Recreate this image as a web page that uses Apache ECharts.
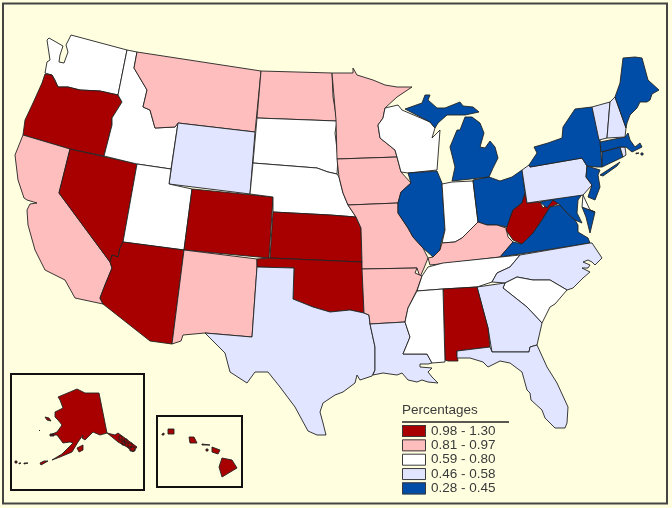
<!DOCTYPE html>
<html><head><meta charset="utf-8">
<style>html,body{margin:0;padding:0;background:#FFFFE0}#c{width:672px;height:508px}</style>
<script src="https://cdn.jsdelivr.net/npm/echarts@6/dist/echarts.min.js"></script>
</head><body><div id="c"></div>
<script>
// Data
var legendTitle = 'Percentages';
var binLabels = ['0.98 - 1.30','0.81 - 0.97','0.59 - 0.80','0.46 - 0.58','0.28 - 0.45'];
var binMin = [0.98,0.81,0.59,0.46,0.28];
var binMax = [1.30,0.97,0.80,0.58,0.45];
var binColors = ['#A80000','#FFBEBE','#FFFFFF','#E1E5FF','#004DA8'];
var stateNames = ['OR','NV','AZ','CO','KS','OK','AL','WV','AK','HI',
                  'CA','MT','ND','MN','IA','MO','AR','NM','KY',
                  'WA','ID','UT','SD','NE','WI','IN','TN','MS','SC','DE',
                  'WY','TX','LA','GA','FL','NC','PA','VT','NH','RI',
                  'MI','IL','OH','NY','VA','MD','NJ','CT','MA','ME'];
var stateValues = [1.05,1.12,1.02,1.00,1.08,1.04,1.10,1.30,1.15,0.99,
                   0.85,0.90,0.88,0.83,0.86,0.92,0.95,0.89,0.97,
                   0.70,0.75,0.62,0.66,0.72,0.68,0.78,0.80,0.74,0.64,0.60,
                   0.50,0.52,0.55,0.48,0.54,0.57,0.49,0.46,0.47,0.58,
                   0.40,0.42,0.44,0.36,0.38,0.33,0.35,0.30,0.28,0.41];

// Map outlines, in picture space (x, y)
var outlines = {
 WA:[[71,35,127,50,118,95,100,91,80,90,68,87,58,87,55,80,52,75,45,73,47,62,50,60,47,40,49,38,63,46,60,55,59,62,64,63,68,52,66,45]],
 OR:[[45,74,52,75,58,87,68,87,80,90,100,91,118,95,122,102,112,118,112,125,104,156,70,149,23,135,25,120,33,103,42,83]],
 CA:[[23,135,70,149,59,193,110,262,112,268,105,285,100,298,103,304,75,298,65,280,45,270,35,250,28,225,27,210,30,204,37,203,27,200,24,198,18,180,15,155]],
 NV:[[70,149,137,164,123,242,120,248,118,257,112,255,110,262,59,193]],
 ID:[[127,50,137,52,134,68,147,90,143,107,150,110,155,128,175,127,178,123,171,169,137,164,104,156,112,125,112,118,122,102,118,95]],
 MT:[[137,52,261,71,255,132,178,123,175,127,155,128,150,110,143,107,147,90,134,68]],
 WY:[[178,123,255,132,250,194,169,184]],
 UT:[[137,164,171,169,169,184,192,189,184,250,123,242]],
 AZ:[[123,242,184,250,172,344,150,341,103,304,100,298,105,285,112,268,110,262,112,255,118,257,120,248]],
 CO:[[192,189,273,197,269,258,184,250]],
 NM:[[184,250,257,259,257,267,252,337,205,333,183,335,181,341,172,344]],
 ND:[[261,71,332,73,333,97,337,121,257,118]],
 SD:[[257,118,337,121,335,133,338,158,337,174,328,172,317,168,253,163]],
 NE:[[253,163,317,168,328,172,337,174,339,177,343,193,348,205,356,217,330,215,273,212,273,197,250,194]],
 KS:[[273,212,330,215,356,217,361,228,362,262,270,258]],
 OK:[[269,258,362,262,364,313,350,310,330,312,313,307,293,299,294,268,257,267,257,259]],
 TX:[[257,267,294,268,293,299,313,307,330,312,350,310,364,313,369,315,370,324,375,347,375,370,372,376,360,380,357,375,355,383,343,392,335,395,323,403,320,412,323,423,326,435,317,435,308,431,295,407,280,387,268,372,255,372,247,383,230,372,225,353,205,333,252,337]],
 MN:[[332,73,353,73,353,68,357,75,373,80,385,85,397,87,412,87,397,97,385,108,383,118,378,125,380,138,395,150,397,157,337,159,336,120]],
 IA:[[337,159,397,157,401,172,411,183,401,192,398,203,348,205,343,193,339,177]],
 MO:[[348,205,398,203,398,213,408,228,413,237,423,248,428,258,424,268,420,277,417,268,362,269,362,262,361,228,356,217]],
 AR:[[362,269,417,268,415,273,422,276,417,290,408,308,405,322,370,324,369,315,364,313]],
 LA:[[370,324,405,322,410,337,403,354,427,354,432,363,428,364,420,364,420,367,432,368,428,372,432,377,438,383,428,382,422,380,417,382,408,380,402,373,397,375,383,373,373,375,375,370,375,347]],
 WI:[[385,108,398,105,402,110,430,122,435,128,432,138,440,130,437,170,408,173,401,172,397,157,395,150,380,138,378,125,383,118]],
 IL:[[408,173,437,171,442,183,445,230,441,243,440,250,433,257,423,248,413,237,408,228,398,213,398,203,401,192,411,183]],
 MI:[[405,109,422,103,425,95,430,95,428,100,437,108,445,108,460,102,463,106,473,107,479,112,465,115,447,115,438,123,435,128,430,122],
     [465,117,472,117,480,123,484,133,480,147,485,148,490,141,495,147,498,158,493,168,489,177,452,181,455,167,450,147,457,130,460,130]],
 IN:[[442,184,452,182,473,181,478,222,470,230,462,238,455,242,442,243,445,230]],
 OH:[[473,180,489,177,500,181,512,177,522,170,525,193,522,203,513,210,507,227,497,225,487,225,478,222]],
 KY:[[478,222,487,225,497,225,506,228,508,237,513,242,500,257,458,262,430,265,428,258,433,257,440,250,442,243,455,242,462,238,470,230]],
 WV:[[525,193,527,203,540,202,543,208,552,200,560,203,550,207,542,220,533,233,522,244,513,240,506,230,510,218,513,210,522,203]],
 VA:[[500,257,513,242,522,244,533,233,542,220,550,207,560,205,567,213,575,220,578,225,578,232,588,238,590,243,520,254]],
 MD:[[540,202,583,193,578,200,577,213,582,223,575,220,567,213,560,205,553,200,547,208],
     [582,207,595,212,590,233,586,217]],
 DE:[[583,195,590,210,595,212,582,207]],
 PA:[[522,170,529,165,530,167,582,158,587,166,586,177,592,185,583,195,527,203]],
 NY:[[529,165,537,153,534,147,548,143,562,138,563,127,575,109,592,107,600,140,602,167,597,167,587,166,582,158,530,167],
     [600,175,620,162,617,166,603,176]],
 NJ:[[587,166,600,170,598,175,600,187,595,200,588,197,592,185,586,177]],
 CT:[[602,152,620,147,623,157,602,167]],
 RI:[[620,147,625,147,626,155,623,157]],
 MA:[[600,142,625,137,628,133,630,140,635,147,640,143,642,147,632,152,626,147,620,147,601,152],[636,153,639,153,639,154,636,154],[641,153,643,153,643,155,641,155]],
 VT:[[592,107,610,102,607,138,599,140]],
 NH:[[610,102,615,97,626,128,625,137,607,138]],
 ME:[[615,97,620,83,623,58,635,57,642,58,648,80,659,90,652,94,650,100,647,102,640,102,637,108,630,115,627,123,626,128]],
 TN:[[428,267,443,263,520,255,510,267,497,273,492,282,477,287,443,289,417,291,422,276]],
 NC:[[492,282,497,273,510,267,520,255,590,243,592,243,600,255,602,258,595,265,592,262,588,260,583,262,590,265,588,268,582,268,590,272,583,278,573,288,567,290,550,280,533,280,517,277,505,283]],
 SC:[[505,283,517,277,533,280,550,280,567,290,555,304,550,307,542,323,527,307,503,288]],
 GA:[[477,287,505,283,503,288,527,307,542,323,537,345,530,347,529,352,492,352,488,328]],
 AL:[[443,289,477,287,488,328,490,347,457,351,457,355,458,361,448,361,445,360]],
 MS:[[417,291,443,289,445,362,432,363,427,354,403,354,410,337,405,322,408,308]],
 FL:[[457,351,490,347,492,352,529,352,530,347,537,345,547,367,557,383,568,407,567,423,565,428,555,428,545,418,542,410,531,400,530,393,527,390,522,372,510,363,500,361,488,367,483,362,470,358,457,358]],
 AK:[[70,392,77,389,85,393,99,393,107,433,100,435,93,432,85,440,82,438,83,435,78,442,72,452,60,457,52,460,62,454,73,443,70,442,63,443,57,435,50,435,57,432,62,425,58,420,55,417,55,412,63,408,60,400,58,397],
     [107,433,115,435,118,433,137,447,133,452,127,447,118,442,112,437],
     [119,436,122,436,122,440,119,440],[124,439,127,439,127,443,124,443],[128,443,132,443,132,447,128,447],[130,447,135,447,135,451,130,451],[122,441,125,441,125,445,122,445],
     [77,448,83,445,83,450,79,452],[45,417,49,418,51,421,47,420],
     [40,463,44,461,48,461,41,465],[15,461,17,461,17,463,15,463],[19,463,21,463,21,464,19,464],[24,463,28,463,28,464,24,464],[39,430,40,430,40,431,39,431],[50,434,54,434,54,436,50,436]],
 HI:[[222,458,232,460,237,468,222,477,219,467],[212,447,220,450,218,454,212,452],[189,437,194,437,197,443,190,443],[168,429,174,429,174,434,168,434],[202,444,210,445,210,446,202,445],[206,449,208,449,208,451,206,451],[162,434,164,433,164,435,162,435]]
};

var features = Object.keys(outlines).map(function(k){
  return {type:'Feature',properties:{name:k},geometry:{type:'MultiPolygon',
    coordinates:outlines[k].map(function(r){
      var ring=[];
      for(var i=0;i<r.length;i+=2) ring.push([r[i],-r[i+1]]);
      ring.push(ring[0]);
      return [ring];
    })}};
});
echarts.registerMap('usa',{type:'FeatureCollection',features:features});

var chart = echarts.init(document.getElementById('c'),null,{renderer:'canvas'});
var swatchFrames = binLabels.map(function(_,i){
  return {type:'rect',z:100,silent:true,shape:{x:402.5,y:425.5+i*14.35,width:23,height:11},
          style:{fill:null,stroke:'#3a3a3a',lineWidth:1}};
});
function box(x,y,w,h,lw,c){return {type:'rect',z:90,silent:true,shape:{x:x,y:y,width:w,height:h},style:{fill:null,stroke:c,lineWidth:lw}};}
chart.setOption({
  animation:false,
  backgroundColor:'#FFFFE0',
  visualMap:{type:'piecewise',orient:'vertical',left:402,top:424,align:'left',
    itemWidth:24,itemHeight:12,itemGap:0.35,itemSymbol:'rect',textGap:5,padding:0,
    selectedMode:false,hoverLink:false,
    textStyle:{fontFamily:'Liberation Sans',fontSize:13.5,color:'#3a3a3a'},
    pieces:binLabels.map(function(l,i){return {min:binMin[i],max:binMax[i],label:l,color:binColors[i]};}),
    seriesIndex:0},
  series:[{type:'map',map:'usa',roam:false,silent:true,aspectScale:1,
    boundingCoords:[[0,0],[672,-508]],left:0,top:0,width:672,height:508,
    label:{show:false},
    itemStyle:{borderColor:'#222',borderWidth:0.9},
    emphasis:{disabled:true},select:{disabled:true},
    data:stateNames.map(function(n,i){return {name:n,value:stateValues[i]};})}],
  graphic:[
    box(3,3.5,664,500,2,'#444'),
    box(11,374,133,116,2,'#111'),
    box(157,416,85,71,2,'#111'),
    {type:'text',z:100,silent:true,x:402,y:403,style:{text:legendTitle,fontFamily:'Liberation Sans',fontSize:13.5,fill:'#3a3a3a'}},
    {type:'line',z:100,silent:true,shape:{x1:402,y1:422,x2:509,y2:422},style:{stroke:'#222',lineWidth:1.5}}
  ].concat(swatchFrames)
});
</script></body></html>
